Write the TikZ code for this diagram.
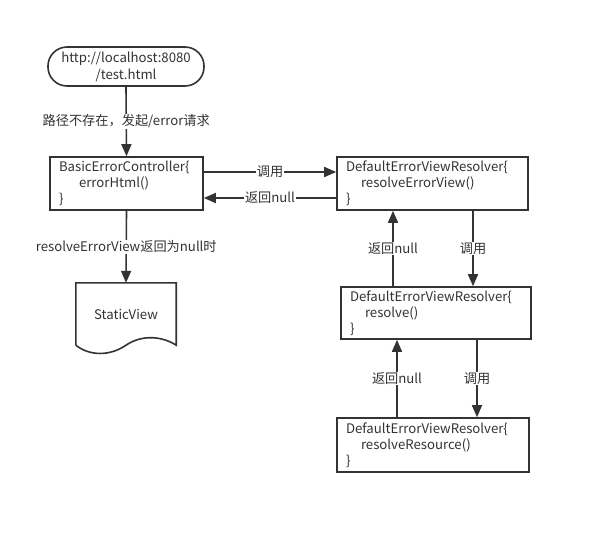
\documentclass[tikz,border=0pt]{standalone}
\usepackage{fontspec}
\setmainfont{Noto Sans CJK SC}
\usetikzlibrary{arrows.meta,calc}
\definecolor{ink}{HTML}{333333}
\tikzset{
  box/.style={draw=ink, line width=1.6pt, rectangle, inner xsep=0pt, inner ysep=0pt, align=left, text=ink},
  arr/.style={draw=ink, line width=1.6pt, -{Triangle[length=12pt,width=10pt]}},
  lbl/.style={fill=white, inner sep=1pt, text=ink, font=\fontsize{13.2}{15}\selectfont},
}
\begin{document}
\begin{tikzpicture}[x=1pt,y=-1pt, font=\fontsize{13.2}{16}\selectfont]
\useasboundingbox[fill=white] (0,0) rectangle (593,533);
% start terminal
\node[box, align=center, rounded corners=19pt, minimum width=156pt, minimum height=39pt, font=\fontsize{13.2}{17}\selectfont] (start) at (126,66.5) {http://localhost:8080\\/test.html};
% boxes
\node[box, minimum width=153pt, minimum height=53pt, text width=135pt] (bec) at (126.5,183.5)
  {BasicErrorController\{\\\hspace*{20pt}errorHtml()\\\}};
\node[box, minimum width=191pt, minimum height=53pt, text width=173pt] (r1) at (432.5,183.5)
  {DefaultErrorViewResolver\{\\\hspace*{15pt}resolveErrorView()\\\}};
\node[box, minimum width=190pt, minimum height=52pt, text width=172pt] (r2) at (436,313)
  {DefaultErrorViewResolver\{\\\hspace*{15pt}resolve()\\\}};
\node[box, minimum width=192pt, minimum height=54pt, text width=174pt] (r3) at (433,445)
  {DefaultErrorViewResolver\{\\\hspace*{15pt}resolveResource()\\\}};
% static view document
\node[minimum width=100pt, minimum height=62pt, inner sep=0pt, text=ink] (sv) at (126,314) {StaticView};
\draw[ink, line width=1.6pt] (sv.south west) -- (sv.north west) -- (sv.north east) -- (sv.south east)
  .. controls ($(sv.south east)+(-14,-9)$) and ($(sv.south east)+(-34,-11)$) .. ($(sv.south)+(0,0)$)
  .. controls ($(sv.south)+(-16,11)$) and ($(sv.south west)+(14,11)$) .. (sv.south west);
% connectors
\draw[arr] (start.south) -- node[lbl, midway] {路径不存在，发起/error请求} (bec.north);
\draw[arr] (bec.south) -- node[lbl, midway] {resolveErrorView返回为null时} (sv.north);
\draw[arr] ([yshift=11.5pt]bec.east) -- node[lbl, midway] {调用} ([yshift=11.5pt]bec.east -| r1.west);
\draw[arr] ([yshift=-14.5pt]r1.west) -- node[lbl, midway] {返回null} ([yshift=-14.5pt]r1.west -| bec.east);
\draw[arr] ([xshift=40.5pt]r1.south) -- node[lbl, midway] {调用} ([xshift=40.5pt]r1.south |- r2.north);
\draw[arr] ([xshift=-43pt]r2.north) -- node[lbl, midway] {返回null} ([xshift=-43pt]r2.north |- r1.south);
\draw[arr] ([xshift=41pt]r2.south) -- node[lbl, midway] {调用} ([xshift=41pt]r2.south |- r3.north);
\draw[arr] ([xshift=-36pt]r3.north) -- node[lbl, midway] {返回null} ([xshift=-36pt]r3.north |- r2.south);
\end{tikzpicture}
\end{document}
